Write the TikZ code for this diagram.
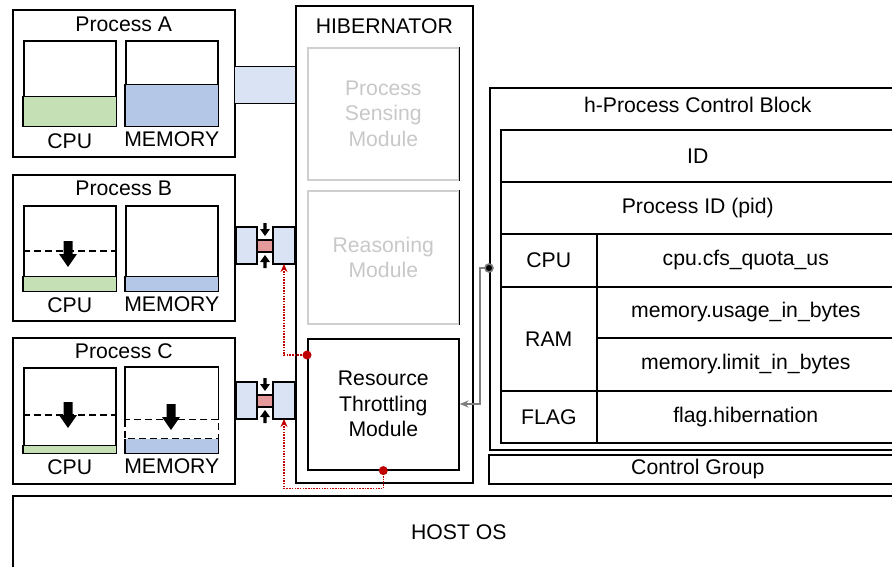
\documentclass[tikz,border=0pt]{standalone}
\usepackage{fontspec}
\setmainfont{Liberation Sans}
\usetikzlibrary{positioning,arrows.meta}

\definecolor{verdecpu}{HTML}{C5E0B4}
\definecolor{azulmem}{HTML}{B4C7E7}
\definecolor{azulcon}{HTML}{DAE3F3}
\definecolor{rosa}{HTML}{E49A9A}
\definecolor{rojo}{HTML}{C00000}
\definecolor{grisclaro}{HTML}{CFCFCF}
\definecolor{gristexto}{HTML}{C8C8C8}
\definecolor{grisflecha}{HTML}{7F7F7F}

\tikzset{
  every node/.style={font=\fontsize{21.2}{25.5}\selectfont},
  caja/.style={draw, line width=1.6pt, anchor=north west, inner sep=0pt},
  barra/.style={caja, minimum width=92pt, minimum height=85pt},
  modulo/.style={caja, minimum width=151pt, align=center},
  texto/.style={inner sep=0pt},
  discont/.style={line width=1.6pt, dash pattern=on 7pt off 4pt},
  rojopunto/.style={draw=rojo, line width=1.6pt, dash pattern=on 1.5pt off 1.2pt,
    -{Stealth[length=8pt,width=7pt]}},
  grisflecha/.style={draw=grisflecha, line width=1.6pt, -{Stealth[length=9pt,width=7pt]}},
  bajada/.pic={\fill (-4.5,0) -- (4.5,0) -- (4.5,13) -- (9,13) -- (0,26) -- (-9,13) -- (-4.5,13) -- cycle;},
  flechita/.pic={\fill (-1.7,0) -- (1.7,0) -- (1.7,6) -- (5,6) -- (0,13) -- (-5,6) -- (-1.7,6) -- cycle;}
}

\begin{document}
\begin{tikzpicture}[x=1pt,y=-1pt]
  \clip (0,0) rectangle (892,567);

  % Proceso A
  \node[caja, minimum width=222pt, minimum height=147pt] (procA) at (12,9) {};
  \node[texto] (tituloA) at ([yshift=-15pt]procA.north) {Process A};
  \node[barra] (cpuA) at (23,40) {};
  \node[barra] (memA) at (125,40) {};
  \filldraw[fill=verdecpu, line width=1.6pt] (cpuA.south west) rectangle ([yshift=30pt]cpuA.south east);
  \filldraw[fill=azulmem, line width=1.6pt] (memA.south west) rectangle ([yshift=42pt]memA.south east);
  \node[texto, below=7pt of cpuA] (etqcpuA) {CPU};
  \node[texto, below=5pt of memA] (etqmemA) {MEMORY};

  % Proceso B
  \node[caja, minimum width=222pt, minimum height=146pt] (procB) at (12,174) {};
  \node[texto] (tituloB) at ([yshift=-14pt]procB.north) {Process B};
  \node[barra] (cpuB) at (23,205) {};
  \node[barra] (memB) at (125,205) {};
  \filldraw[fill=verdecpu, line width=1.6pt] (cpuB.south west) rectangle ([yshift=15pt]cpuB.south east);
  \filldraw[fill=azulmem, line width=1.6pt] (memB.south west) rectangle ([yshift=15pt]memB.south east);
  \draw[discont] (cpuB.west |- 0,251) -- (cpuB.east |- 0,251);
  \pic at (68,241) {bajada};
  \node[texto, below=6pt of cpuB] (etqcpuB) {CPU};
  \node[texto, below=5pt of memB] (etqmemB) {MEMORY};

  % Proceso C
  \node[caja, minimum width=222pt, minimum height=146pt] (procC) at (12,337) {};
  \node[texto] (tituloC) at ([yshift=-14pt]procC.north) {Process C};
  \node[barra] (cpuC) at (23,367) {};
  \path node[barra, draw=none] (memC) at (125,367) {};
  \filldraw[fill=verdecpu, line width=1.6pt] (cpuC.south west) rectangle ([yshift=8pt]cpuC.south east);
  \fill[azulmem] (memC.south west) rectangle ([yshift=15pt]memC.south east);
  \draw[line width=1.6pt] ([yshift=34pt]memC.south west) |- (memC.north east) -- ([yshift=34pt]memC.south east);
  \draw[line width=1.6pt] ([yshift=15pt]memC.south west) -- (memC.south west) -- (memC.south east) -- ([yshift=15pt]memC.south east);
  \draw[discont] ([yshift=34pt]memC.south west) rectangle ([yshift=15pt]memC.south east);
  \draw[discont] (cpuC.west |- 0,415) -- (cpuC.east |- 0,415);
  \pic at (68,402) {bajada};
  \pic at (171,404) {bajada};
  \node[texto, below=6pt of cpuC] (etqcpuC) {CPU};
  \node[texto, below=5pt of memC] (etqmemC) {MEMORY};

  % Conexiones proceso - HIBERNATOR
  \node[caja, fill=azulcon, line width=1.2pt, minimum width=61pt, minimum height=37pt] (conA) at (234,66) {};
  \foreach \y/\n in {227/B, 382/C} {
    \begin{scope}[shift={(236,\y)}]
      \filldraw[fill=azulcon, line width=1.2pt] (0,0) -- (21,0) -- (21,13) -- (37,13) -- (37,0) -- (59,0)
        -- (59,37) -- (37,37) -- (37,25) -- (21,25) -- (21,37) -- (0,37) -- cycle;
      \filldraw[fill=rosa, line width=1.2pt] (21,13) rectangle (37,25);
      \pic at (29,-4) {flechita};
      \pic[rotate=180] at (29,41) {flechita};
      \coordinate (pie\n) at (48,37);
    \end{scope}
  }

  % HIBERNATOR y modulos
  \node[caja, minimum width=177pt, minimum height=477pt] (hib) at (295,5) {};
  \node[texto] (titulohib) at ([yshift=-21pt]hib.north) {HIBERNATOR};
  \node[modulo, draw=grisclaro, text=gristexto, minimum height=132pt] (psm) at (307,47) {Process\\Sensing\\Module};
  \draw[line width=1.6pt] (psm.north east) -- (psm.south east);
  \node[modulo, draw=grisclaro, text=gristexto, minimum height=133pt] (rm) at (307,190) {Reasoning\\Module};
  \draw[line width=1.6pt] (rm.north east) -- (rm.south east);
  \node[modulo, minimum height=131pt] (rtm) at (307,338) {Resource\\Throttling\\Module};

  % Control de recursos (lineas rojas)
  \coordinate (r1) at (rtm.west |- 0,355);
  \draw[rojopunto] (r1) -| (pieB);
  \draw[rojopunto] (rtm.south) -- ++(0,18) -| (pieC);
  \fill[rojo] (r1) circle (4.5pt);
  \fill[rojo] (rtm.south) circle (4.5pt);

  % h-Process Control Block
  \node[caja, minimum width=416pt, minimum height=362pt] (pcb) at (489,87) {};
  \node[texto] (titulopcb) at ([yshift=-18pt]pcb.north) {h-Process Control Block};
  \node[caja, minimum width=394pt, minimum height=52pt] (fid) at (500,129) {ID};
  \node[caja, minimum width=394pt, minimum height=52pt] (fpid) at (500,181) {Process ID (pid)};
  \node[caja, minimum width=96pt, minimum height=53pt] (fcpu) at (500,233) {CPU};
  \node[caja, minimum width=298pt, minimum height=53pt] (fquota) at (596,233) {cpu.cfs\_quota\_us};
  \node[caja, minimum width=96pt, minimum height=104pt] (fram) at (500,286) {RAM};
  \node[caja, minimum width=298pt, minimum height=51pt] (fusage) at (596,286) {memory.usage\_in\_bytes};
  \node[caja, minimum width=298pt, minimum height=53pt] (flimit) at (596,337) {memory.limit\_in\_bytes};
  \node[caja, minimum width=96pt, minimum height=52pt] (fflag) at (500,390) {FLAG};
  \node[caja, minimum width=298pt, minimum height=52pt] (fhib) at (596,390) {flag.hibernation};
  \node[caja, minimum width=418pt, minimum height=29pt] (cgroup) at (488,454) {Control Group};

  % PCB -> modulo de throttling
  \coordinate (g1) at (pcb.west |- 0,268);
  \draw[grisflecha] (g1) -- ++(-9,0) |- (rtm.east |- 0,404);
  \fill[grisflecha] (g1) circle (4pt);

  % Sistema anfitrion
  \node[caja, minimum width=892pt, minimum height=100pt] (host) at (12,495) {};
  \node[texto] (titulohost) at ([yshift=-37pt]host.north) {HOST OS};
\end{tikzpicture}
\end{document}
